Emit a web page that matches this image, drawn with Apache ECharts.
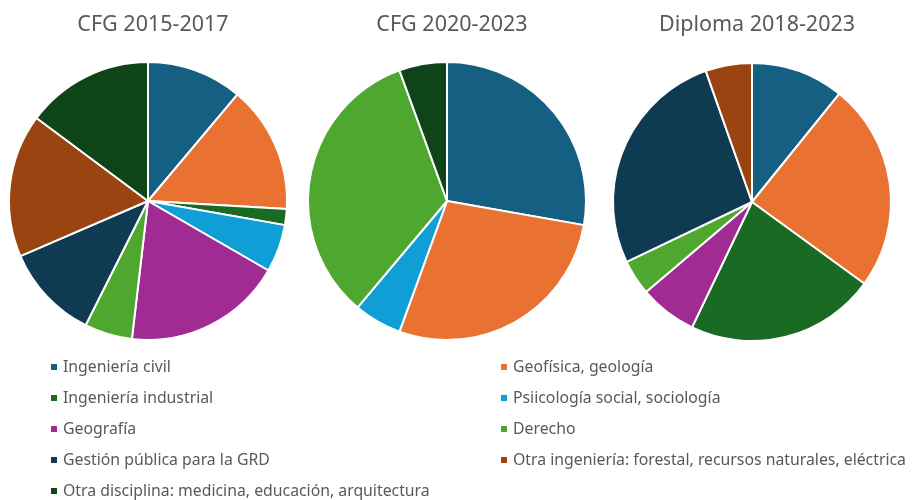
<!DOCTYPE html>
<html>
<head>
<meta charset="utf-8">
<script src="https://cdn.jsdelivr.net/npm/echarts@6/dist/echarts.min.js"></script>
<style>html,body{margin:0;padding:0;background:#fff}#c{width:912px;height:500px}</style>
</head>
<body>
<div id="c"></div>
<script>
const categories = [
  "Ingeniería civil",
  "Geofísica, geología",
  "Ingeniería industrial",
  "Psiicología social, sociología",
  "Geografía",
  "Derecho",
  "Gestión pública para la GRD",
  "Otra ingeniería: forestal, recursos naturales, eléctrica",
  "Otra disciplina: medicina, educación, arquitectura"
];
const colors = ["#156082","#E97132","#196B24","#0F9ED5","#A02B93","#4EA72E","#0E3A52","#9A4412","#0F4418"];
const titles = ["CFG 2015-2017","CFG 2020-2023","Diploma 2018-2023"];
// null = category absent in that chart
const cfg2015 = [6, 8, 1, 3, 10, 3, 6, 9, 8];
const cfg2020 = [5, 5, null, 1, null, 6, null, null, 1];
const diploma = [10.8, 24.2, 22.1, null, 6.7, 4.1, 26.7, 5.4, null];

const centers = [[148, 201], [447, 201], [752, 202]];
const titleX = [148, 447, 752];
const datasets = [cfg2015, cfg2020, diploma];

function build(vals) {
  const out = [];
  vals.forEach((v, i) => {
    if (v !== null) out.push({ name: categories[i], value: v, itemStyle: { color: colors[i] } });
  });
  return out;
}

const chart = echarts.init(document.getElementById('c'), null, { renderer: 'canvas' });
const textColor = '#595959';
const font = "'Noto Sans', sans-serif";
// legend layout: two columns, item i goes to column i%2, row floor(i/2)
const legends = categories.map((name, i) => ({
  orient: 'horizontal', itemWidth: 8, itemHeight: 8, icon: 'rect', padding: 0,
  left: (i % 2 === 0) ? 49 : 499,
  top: 357.5 + Math.floor(i / 2) * 31,
  data: [name],
  textStyle: { color: textColor, fontSize: 15.8, fontFamily: font, lineHeight: 19 },
  selectedMode: false
}));
chart.setOption({
  animation: false,
  color: colors,
  title: titles.map((t, i) => ({
    text: t, left: titleX[i], top: 9, textAlign: 'center',
    textStyle: { color: textColor, fontSize: 21.5, fontWeight: 'normal', fontFamily: font }
  })),
  legend: legends,
  series: datasets.map((d, i) => ({
    type: 'pie', center: centers[i], radius: [0, 139], startAngle: 90, clockwise: true,
    label: { show: false }, labelLine: { show: false },
    itemStyle: { borderColor: '#fff', borderWidth: 2 },
    emphasis: { disabled: true },
    data: build(d)
  }))
});
</script>
</body>
</html>
